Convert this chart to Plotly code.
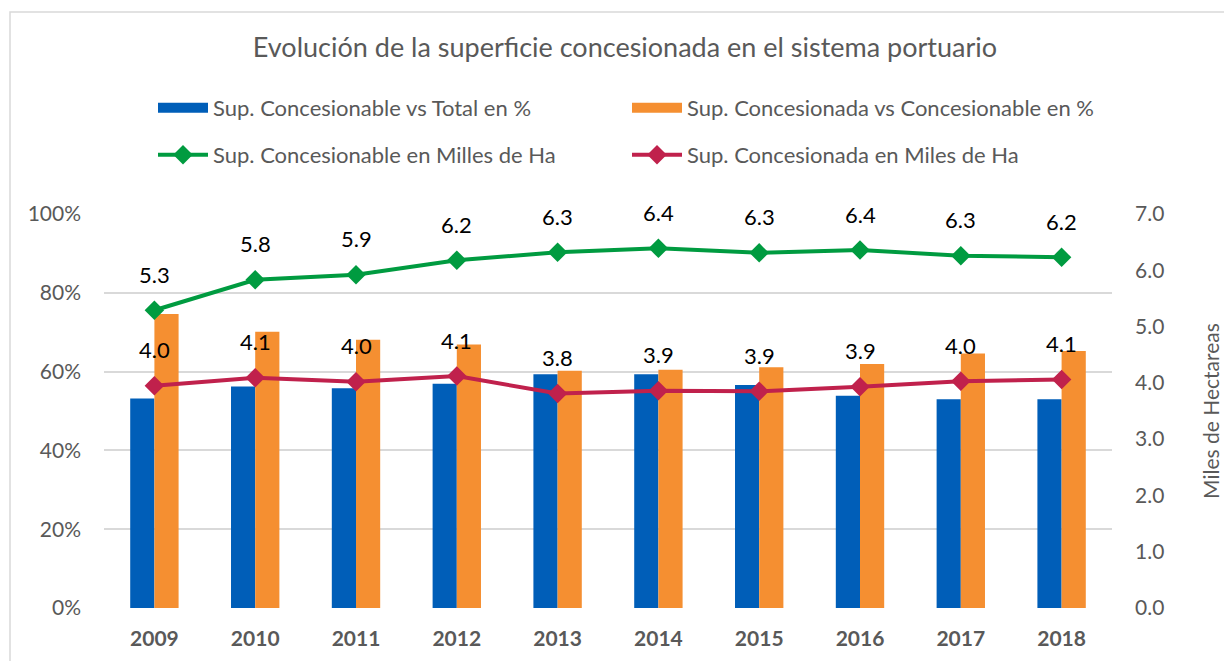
import plotly.graph_objects as go

years = ["2009", "2010", "2011", "2012", "2013", "2014", "2015", "2016", "2017", "2018"]
concesionable_vs_total = [0.532, 0.562, 0.558, 0.569, 0.593, 0.593, 0.566, 0.539, 0.530, 0.530]
concesionada_vs_concesionable = [0.746, 0.701, 0.681, 0.669, 0.602, 0.605, 0.611, 0.619, 0.646, 0.652]
concesionable_ha = [5.29, 5.83, 5.92, 6.18, 6.32, 6.39, 6.31, 6.36, 6.26, 6.23]
concesionada_ha = [3.95, 4.09, 4.02, 4.12, 3.81, 3.86, 3.85, 3.93, 4.03, 4.06]

names = [
    "Sup. Concesionable vs Total en %",
    "Sup. Concesionada vs Concesionable en %",
    "Sup. Concesionable en Milles de Ha",
    "Sup. Concesionada en Miles de Ha",
]

BLUE = "#005EB8"
ORANGE = "#F58F31"
GREEN = "#009B40"
RED = "#C0214C"
GRAY = "#595959"
FONT = "Lato, 'Open Sans', sans-serif"

# page body margin is removed below, so figure coords == screen coords
W, H = 1224, 661
PL, PR, PT, PB = 104, 1112, 214, 608

fig = go.Figure()
fig.add_trace(go.Bar(x=years, y=concesionable_vs_total, name=names[0],
                     marker=dict(color=BLUE, line_width=0), showlegend=False,
                     legendgroup="b1"))
fig.add_trace(go.Bar(x=years, y=concesionada_vs_concesionable, name=names[1],
                     marker=dict(color=ORANGE, line_width=0), showlegend=False,
                     legendgroup="b2"))
# legend proxies for the bar series (wide colour swatches)
for nm, col, grp in ((names[0], BLUE, "b1"), (names[1], ORANGE, "b2")):
    fig.add_trace(go.Scatter(x=[None], y=[None], name=nm, mode="lines",
                             line=dict(color=col, width=18), legendgroup=grp,
                             legend="legend", hoverinfo="skip"))
fig.add_trace(go.Scatter(x=years, y=concesionable_ha, name=names[2], yaxis="y2",
                         mode="lines+markers", line=dict(color=GREEN, width=4),
                         marker=dict(symbol="diamond", size=15, color=GREEN),
                         legend="legend2"))
fig.add_trace(go.Scatter(x=years, y=concesionada_ha, name=names[3], yaxis="y2",
                         mode="lines+markers", line=dict(color=RED, width=4),
                         marker=dict(symbol="diamond", size=15, color=RED),
                         legend="legend2"))

for series in (concesionable_ha, concesionada_ha):
    for i, v in enumerate(series):
        fig.add_annotation(x=i, y=v, xref="x", yref="y2", text=f"{v:.1f}",
                           showarrow=False, yshift=36,
                           font=dict(family=FONT, size=22, color="#000000"))

pw, ph = PR - PL, PB - PT
fig.add_shape(type="rect", xref="paper", yref="paper",
              x0=(10 - PL) / pw, x1=(W + 60 - PL) / pw,
              y0=-(H + 60 - PB) / ph, y1=1 + (PT - 12) / ph,
              line=dict(color="#D9D9D9", width=1.5), fillcolor="rgba(0,0,0,0)", layer="below")

legend_common = dict(orientation="h", xref="container", yref="container",
                     x=153 / W, xanchor="left", yanchor="middle",
                     entrywidth=409, entrywidthmode="pixels", itemwidth=50,
                     font=dict(family=FONT, size=22, color=GRAY), bgcolor="rgba(0,0,0,0)")

fig.update_layout(
    width=W, height=H,
    margin=dict(l=PL, r=W - PR, t=PT, b=H - PB, autoexpand=False),
    paper_bgcolor="white", plot_bgcolor="white",
    font=dict(family=FONT, size=20, color=GRAY),
    title=dict(text="Evolución de la superficie concesionada en el sistema portuario",
               x=625 / W, xanchor="center", y=1 - 48 / H, yanchor="middle",
               xref="container", yref="container",
               font=dict(family=FONT, size=27, color=GRAY)),
    barmode="group", bargap=0.52, bargroupgap=0,
    xaxis=dict(type="category", range=[-0.5, 9.5], showgrid=False, showline=False,
               ticks="", ticklabelstandoff=16,
               tickfont=dict(family=FONT, size=21, color=GRAY, weight="bold")),
    yaxis=dict(range=[0, 1], dtick=0.2, tickformat=".0%", showgrid=True,
               gridcolor="#D9D9D9", gridwidth=1.5, zeroline=False, showline=False,
               ticks="", ticklabelstandoff=22,
               tickfont=dict(family=FONT, size=21, color=GRAY)),
    yaxis2=dict(range=[0, 7], dtick=1, tickformat=".1f", overlaying="y", side="right",
                showgrid=False, zeroline=False, showline=False, ticks="",
                ticklabelstandoff=22,
                tickfont=dict(family=FONT, size=21, color=GRAY),
                title=dict(text="Miles de Hectareas", standoff=40,
                           font=dict(family=FONT, size=21, color=GRAY))),
    legend=dict(legend_common, y=1 - 108 / H),
    legend2=dict(legend_common, y=1 - 155 / H),
    showlegend=True,
)

fig.write_html("out.html", config={"displayModeBar": False},
               post_script="document.body.style.margin='0';document.body.style.overflow='hidden';")
